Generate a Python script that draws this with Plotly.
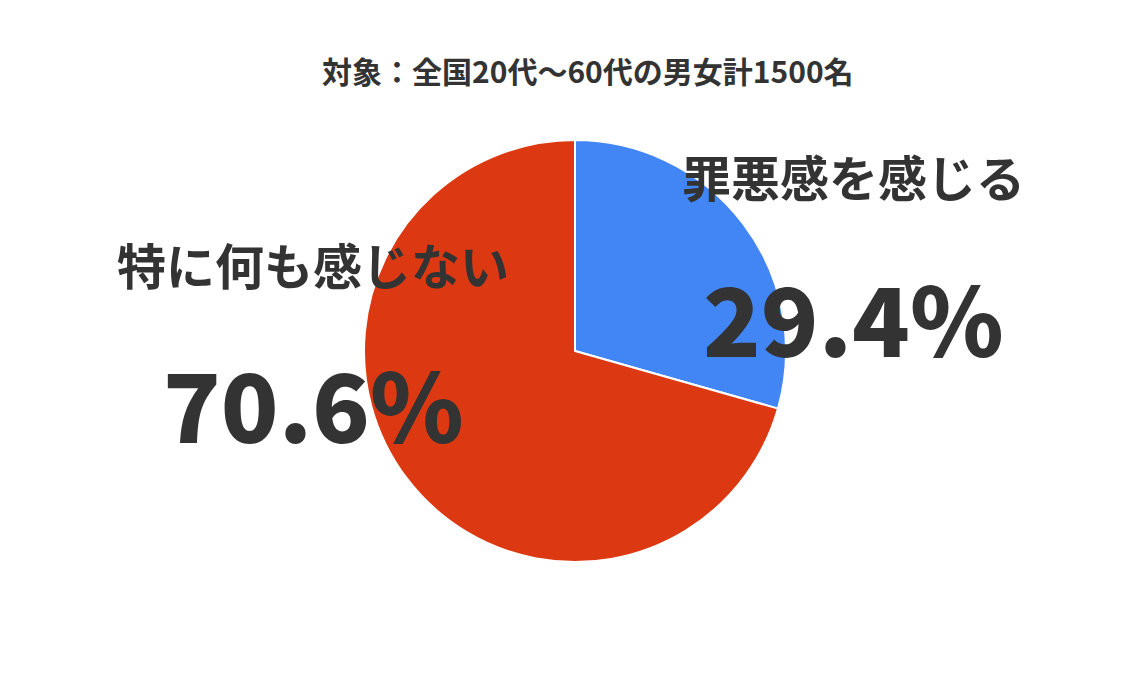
import plotly.graph_objects as go

W, H = 1139, 676
OFF = 8  # browser body margin shifts the plot by 8px

labels = ["罪悪感を感じる", "特に何も感じない"]
values = [29.4, 70.6]
colors = ["#4285F4", "#DC3912"]
title_text = "対象：全国20代〜60代の男女計1500名"

FONT = "Noto Sans CJK JP"
TXT = "#333333"

# pie geometry in page pixels (center 575,351 ; radius 211)
cx, cy, r = 575 - OFF, 351 - OFF, 211

fig = go.Figure()
fig.add_trace(go.Pie(
    labels=labels,
    values=values,
    sort=False,
    direction="clockwise",
    rotation=0,
    textinfo="none",
    hole=0,
    marker=dict(colors=colors, line=dict(color="white", width=2)),
    domain=dict(x=[(cx - r) / W, (cx + r) / W], y=[1 - (cy + r) / H, 1 - (cy - r) / H]),
    showlegend=False,
))


def px(x, y):
    return (x - OFF) / W, 1 - (y - OFF) / H


def note(text, x, y, size, weight=700):
    ax, ay = px(x, y)
    return dict(text=text, x=ax, y=ay, xref="paper", yref="paper",
                xanchor="center", yanchor="middle", showarrow=False,
                font=dict(family=FONT, size=size, color=TXT, weight=weight))


annotations = []
label_pos = [(853, 176, 315), (313, 264, 401)]
for lab, val, (x, y1, y2) in zip(labels, values, label_pos):
    annotations.append(note(lab, x, y1, 49))
    annotations.append(note(f"{val}%", x, y2, 95, 900))

annotations.append(note(title_text, 588, 70, 30))

fig.update_layout(
    width=W,
    height=H,
    margin=dict(l=0, r=0, t=0, b=0),
    paper_bgcolor="white",
    plot_bgcolor="white",
    annotations=annotations,
)

fig.write_html("out.html")
